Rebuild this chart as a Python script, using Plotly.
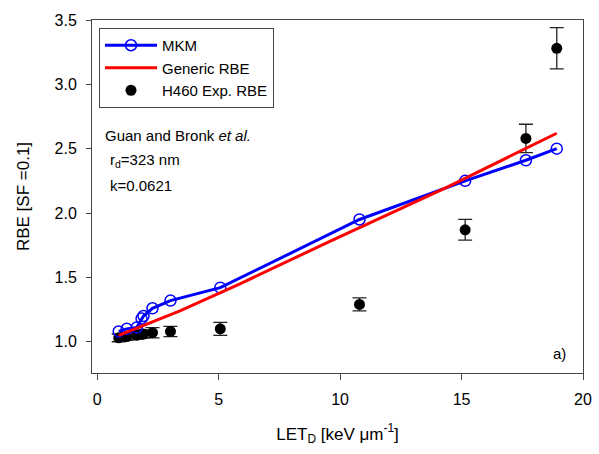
import plotly.graph_objects as go

# MKM model
mkm_let = [0.89, 1.22, 1.63, 1.83, 1.91, 2.28, 3.02, 5.07, 10.8, 15.15, 17.65, 18.92]
mkm_rbe = [1.08, 1.10, 1.11, 1.18, 1.20, 1.26, 1.32, 1.42, 1.95, 2.25, 2.41, 2.50]

# Generic RBE
gen_let = [0.89, 3.41, 5.88, 9.58, 14.39, 18.92]
gen_rbe = [1.05, 1.24, 1.45, 1.78, 2.20, 2.62]

# H460 experimental RBE
exp_let = [0.89, 1.22, 1.63, 1.83, 1.91, 2.28, 3.02, 5.07, 10.8, 15.15, 17.65, 18.92]
exp_rbe = [1.03, 1.04, 1.05, 1.06, 1.06, 1.07, 1.08, 1.10, 1.29, 1.87, 2.58, 3.28]
exp_err = [0.03, 0.03, 0.03, 0.03, 0.03, 0.04, 0.04, 0.05, 0.05, 0.08, 0.11, 0.16]

x_ticks = [0, 5, 10, 15, 20]
y_ticks = [1.0, 1.5, 2.0, 2.5, 3.0, 3.5]

FONT = "Liberation Sans, Arial, sans-serif"

# plot area in pixels
L, R, T, B = 92, 583, 20, 373
W, H = R - L, B - T

fig = go.Figure()

fig.add_trace(go.Scatter(
    x=exp_let, y=exp_rbe, mode="markers", name="H460 Exp. RBE",
    marker=dict(symbol="circle", size=11, color="black"),
    error_y=dict(type="data", array=exp_err, visible=True, color="#222222",
                 thickness=1.3, width=7),
    legendrank=3,
))
fig.add_trace(go.Scatter(
    x=mkm_let, y=mkm_rbe, mode="lines+markers", name="MKM",
    line=dict(color="#0000ff", width=3),
    marker=dict(symbol="circle-open", size=11, color="#0000ff", line=dict(width=1.5)),
    legendrank=1,
))
fig.add_trace(go.Scatter(
    x=gen_let, y=gen_rbe, mode="lines", name="Generic RBE",
    line=dict(color="#ff0000", width=3),
    legendrank=2,
))

fig.update_layout(
    width=599, height=454,
    margin=dict(l=L, r=599 - R, t=T, b=454 - B, autoexpand=False),
    paper_bgcolor="white", plot_bgcolor="white",
    font=dict(family=FONT, size=15, color="black"),
    showlegend=True,
    legend=dict(
        x=(99 - L) / W, y=(B - 28) / H, xanchor="left", yanchor="top",
        bordercolor="#444444", borderwidth=1, bgcolor="white",
        font=dict(size=15, family=FONT),
        tracegroupgap=0, itemwidth=52,
    ),
    xaxis=dict(
        range=[-0.21, 20.0], tickvals=x_ticks, ticktext=[str(v) for v in x_ticks],
        showgrid=False, zeroline=False, showline=True, linecolor="#444444", linewidth=1,
        mirror=True, ticks="outside", ticklen=6, tickcolor="#444444",
        tickfont=dict(size=16, family=FONT), ticklabelstandoff=6, automargin=False,
        title=dict(text="LET<sub>D</sub> [keV \u03bcm<sup>-1</sup>]", font=dict(size=17, family=FONT), standoff=20),
    ),
    yaxis=dict(
        range=[0.757, 3.5], tickvals=y_ticks, ticktext=[f"{v:.1f}" for v in y_ticks],
        showgrid=False, zeroline=False, showline=True, linecolor="#444444", linewidth=1,
        mirror=True, ticks="outside", ticklen=5, tickcolor="#444444",
        tickfont=dict(size=16, family=FONT), ticklabelstandoff=6, automargin=False,
        title=dict(text="RBE [SF =0.1]", font=dict(size=17, family=FONT), standoff=20),
    ),
)

annos = [
    dict(x=103, y=135, text="Guan and Bronk <i>et al.</i>"),
    dict(x=108, y=160, text="r<sub>d</sub>=323 nm"),
    dict(x=108, y=185, text="k=0.0621"),
    dict(x=551, y=353, text="a)"),
]
for a in annos:
    fig.add_annotation(
        x=(a["x"] - L) / W, y=(B - a["y"]) / H, xref="paper", yref="paper",
        text=a["text"], showarrow=False, xanchor="left", yanchor="middle",
        font=dict(size=15, family=FONT, color="black"),
    )

fig.write_html("out.html")
